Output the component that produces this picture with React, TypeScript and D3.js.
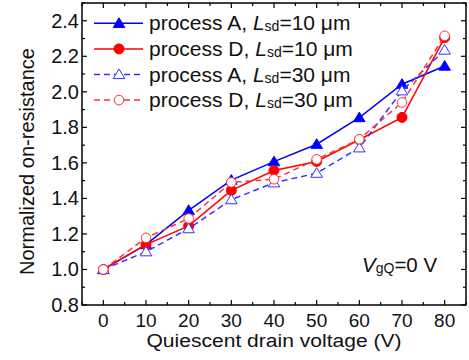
import React from "react";
import * as d3 from "d3";

const voltages = [0, 10, 20, 30, 40, 50, 60, 70, 80];
const procA10 = [1.0, 1.14, 1.333, 1.503, 1.607, 1.705, 1.855, 2.043, 2.145];
const procD10 = [1.0, 1.14, 1.245, 1.445, 1.557, 1.608, 1.73, 1.856, 2.305];
const procA30 = [1.0, 1.1, 1.23, 1.393, 1.488, 1.542, 1.685, 2.006, 2.235];
const procD30 = [1.0, 1.178, 1.287, 1.49, 1.508, 1.62, 1.733, 1.94, 2.315];
const xTicks = [0, 10, 20, 30, 40, 50, 60, 70, 80];
const yTicks = [0.8, 1.0, 1.2, 1.4, 1.6, 1.8, 2.0, 2.2, 2.4];

const seriesList = [
  { name: "A", lsd: "10", values: procA10, color: "#0000ff", dashed: false, marker: "tri", filled: true },
  { name: "D", lsd: "10", values: procD10, color: "#ff0000", dashed: false, marker: "circ", filled: true },
  { name: "A", lsd: "30", values: procA30, color: "#3333ff", dashed: true, marker: "tri", filled: false },
  { name: "D", lsd: "30", values: procD30, color: "#ff3333", dashed: true, marker: "circ", filled: false },
];

const W = 469, H = 360;
const L = 82, R = 466, T = 3, B = 305;
const font = "Liberation Sans, Arial, sans-serif";

function Marker({ type, x, y, color, filled }: any) {
  if (type === "tri") {
    const s = 5.5;
    const pts = `${x},${y - s} ${x - s * 1.05},${y + s * 0.75} ${x + s * 1.05},${y + s * 0.75}`;
    return <polygon points={pts} fill={filled ? color : "white"} stroke={color} strokeWidth={1} />;
  }
  return <circle cx={x} cy={y} r={filled ? 5 : 4.8} fill={filled ? color : "white"} stroke={color} strokeWidth={1} />;
}

export default function App() {
  const x = d3.scaleLinear().domain([-5, 85]).range([L, R]);
  const y = d3.scaleLinear().domain([0.8, 2.5]).range([B, T]);
  const line = d3.line<[number, number]>().x((d) => x(d[0])).y((d) => y(d[1]));

  const xMinor = d3.range(-5, 86, 5);
  const yMinor = d3.range(0.8, 2.501, 0.1);

  return (
    <svg width={W} height={H} style={{ position: "absolute", left: 0, top: 0, background: "white" }} fontFamily={font}>
      <rect x={0} y={0} width={W} height={H} fill="white" />
      <rect x={L} y={T} width={R - L} height={B - T} fill="none" stroke="black" strokeWidth={1.5} />
      {xMinor.map((v) => {
        const major = xTicks.includes(v);
        const len = major ? 5 : 3;
        return (
          <g key={"xt" + v}>
            <line x1={x(v)} x2={x(v)} y1={B} y2={B - len} stroke="black" strokeWidth={1.2} />
            <line x1={x(v)} x2={x(v)} y1={T} y2={T + len} stroke="black" strokeWidth={1.2} />
          </g>
        );
      })}
      {yMinor.map((v, i) => {
        const major = i % 2 === 0;
        const len = major ? 5 : 3;
        return (
          <g key={"yt" + i}>
            <line x1={L} x2={L + len} y1={y(v)} y2={y(v)} stroke="black" strokeWidth={1.2} />
            <line x1={R} x2={R - len} y1={y(v)} y2={y(v)} stroke="black" strokeWidth={1.2} />
          </g>
        );
      })}
      {xTicks.map((v) => (
        <text key={"xl" + v} x={x(v)} y={326.5} textAnchor="middle" fontSize={19} fill="#111">
          {v}
        </text>
      ))}
      {yTicks.map((v) => (
        <text key={"yl" + v} x={L - 3} y={y(v) + 7} textAnchor="end" fontSize={20} fill="#111">
          {v.toFixed(1)}
        </text>
      ))}
      <text x={274} y={347} textAnchor="middle" fontSize={18} fill="#111" textLength={255} lengthAdjust="spacingAndGlyphs">
        Quiescent drain voltage (V)
      </text>
      <text transform={`translate(34,161.5) rotate(-90)`} textAnchor="middle" fontSize={20} fill="#111" textLength={227} lengthAdjust="spacingAndGlyphs">
        Normalized on-resistance
      </text>
      {seriesList.map((s, si) => {
        const pts = voltages.map((v, i) => [v, s.values[i]] as [number, number]);
        return (
          <g key={"s" + si}>
            <path d={line(pts) || ""} fill="none" stroke={s.color} strokeWidth={1.5} strokeDasharray={s.dashed ? "6,4" : undefined} />
            {pts.map((p, i) => (
              <Marker key={i} type={s.marker} x={x(p[0])} y={y(p[1])} color={s.color} filled={s.filled} />
            ))}
          </g>
        );
      })}
      {seriesList.map((s, si) => {
        const ly = 23.3 + si * 25.6;
        return (
          <g key={"lg" + si}>
            <line x1={94} x2={143} y1={ly} y2={ly} stroke={s.color} strokeWidth={1.5} strokeDasharray={s.dashed ? "6,4" : undefined} />
            <Marker type={s.marker} x={119} y={ly} color={s.color} filled={s.filled} />
            <text x={149} y={ly + 7} fontSize={21} fill="#111">
              {`process ${s.name}, `}
              <tspan fontStyle="italic">L</tspan>
              <tspan fontSize={14} dy={1}>sd</tspan>
              <tspan dy={-1}>{`=${s.lsd} \u03bcm`}</tspan>
            </text>
          </g>
        );
      })}
      <text x={362} y={272} fontSize={20.5} fill="#111">
        <tspan fontStyle="italic">V</tspan>
        <tspan fontSize={14} dy={1}>gQ</tspan>
        <tspan dy={-1}>=0 V</tspan>
      </text>
    </svg>
  );
}
